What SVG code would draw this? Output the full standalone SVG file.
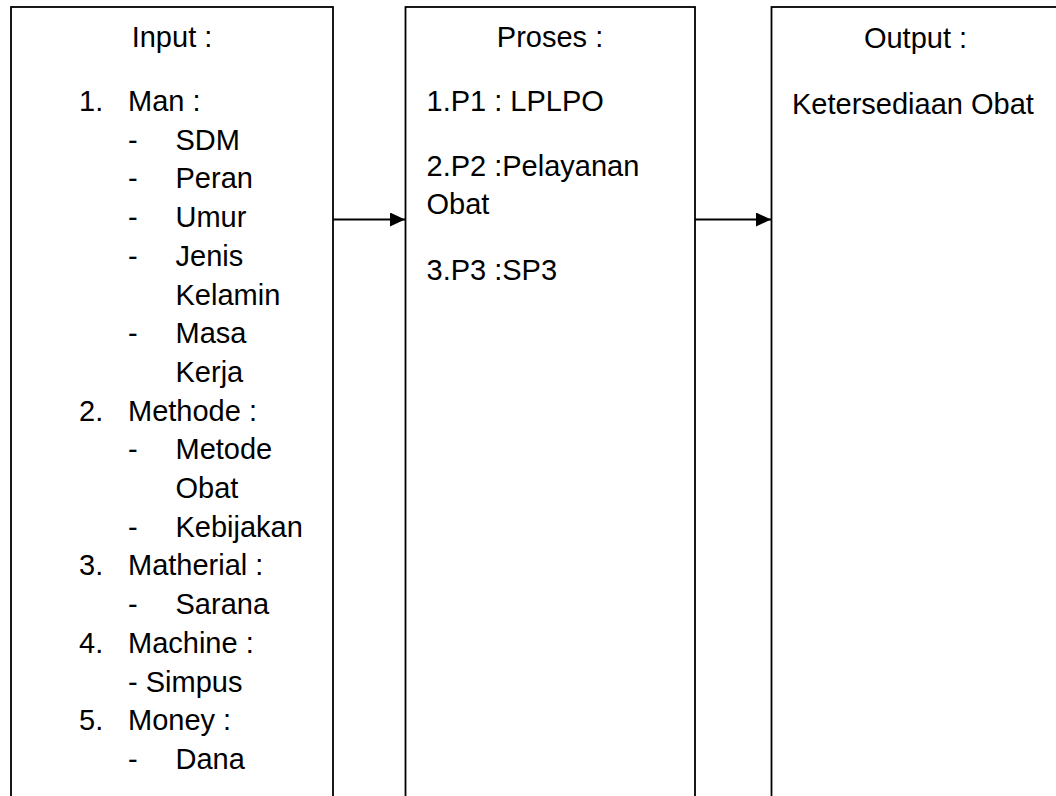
<svg xmlns="http://www.w3.org/2000/svg" width="1056" height="796" viewBox="0 0 1056 796">
<defs>
<style>
.box{fill:#fff;stroke:#000;stroke-width:1.8}
.t{font-family:"Liberation Sans",Arial,sans-serif;font-size:29px;fill:#000}
.c{text-anchor:middle}
.conn{stroke:#000;stroke-width:1.8;fill:none}
</style>
<marker id="arr" markerWidth="15" markerHeight="14" refX="15" refY="7" orient="auto" markerUnits="userSpaceOnUse">
<path d="M0,0 L15,7 L0,14 Z" fill="#000"/>
</marker>
</defs>
<rect width="1056" height="796" fill="#fff"/>
<g id="input">
<rect class="box" x="11" y="7" width="322" height="820"/>
<text class="t c" x="172" y="47">Input :</text>
<text class="t" x="79" y="111">1.</text><text class="t" x="128" y="111">Man :</text>
<text class="t" x="128" y="149.7">-</text><text class="t" x="175.5" y="149.7">SDM</text>
<text class="t" x="128" y="188.4">-</text><text class="t" x="175.5" y="188.4">Peran</text>
<text class="t" x="128" y="227.1">-</text><text class="t" x="175.5" y="227.1">Umur</text>
<text class="t" x="128" y="265.8">-</text><text class="t" x="175.5" y="265.8">Jenis</text>
<text class="t" x="175.5" y="304.5">Kelamin</text>
<text class="t" x="128" y="343.2">-</text><text class="t" x="175.5" y="343.2">Masa</text>
<text class="t" x="175.5" y="381.9">Kerja</text>
<text class="t" x="79" y="420.6">2.</text><text class="t" x="128" y="420.6">Methode :</text>
<text class="t" x="128" y="459.3">-</text><text class="t" x="175.5" y="459.3">Metode</text>
<text class="t" x="175.5" y="498">Obat</text>
<text class="t" x="128" y="536.7">-</text><text class="t" x="175.5" y="536.7">Kebijakan</text>
<text class="t" x="79" y="575.4">3.</text><text class="t" x="128" y="575.4">Matherial :</text>
<text class="t" x="128" y="614.1">-</text><text class="t" x="175.5" y="614.1">Sarana</text>
<text class="t" x="79" y="652.8">4.</text><text class="t" x="128" y="652.8">Machine :</text>
<text class="t" x="128" y="691.5">- Simpus</text>
<text class="t" x="79" y="730.2">5.</text><text class="t" x="128" y="730.2">Money :</text>
<text class="t" x="128" y="768.9">-</text><text class="t" x="175.5" y="768.9">Dana</text>
</g>
<g id="proses">
<rect class="box" x="405.5" y="7" width="289.5" height="820"/>
<text class="t c" x="550" y="47">Proses :</text>
<text class="t" x="426.5" y="111">1.P1 : LPLPO</text>
<text class="t" x="426.5" y="176">2.P2 :Pelayanan</text>
<text class="t" x="426.5" y="214">Obat</text>
<text class="t" x="426.5" y="279.5">3.P3 :SP3</text>
</g>
<g id="output">
<rect class="box" x="771.5" y="7" width="320" height="820"/>
<text class="t c" x="915.5" y="48">Output :</text>
<text class="t" x="792" y="114">Ketersediaan Obat</text>
</g>
<g id="connectors">
<line class="conn" x1="333" y1="219.5" x2="405" y2="219.5" marker-end="url(#arr)"/>
<line class="conn" x1="695" y1="219.5" x2="771" y2="219.5" marker-end="url(#arr)"/>
</g>
</svg>
